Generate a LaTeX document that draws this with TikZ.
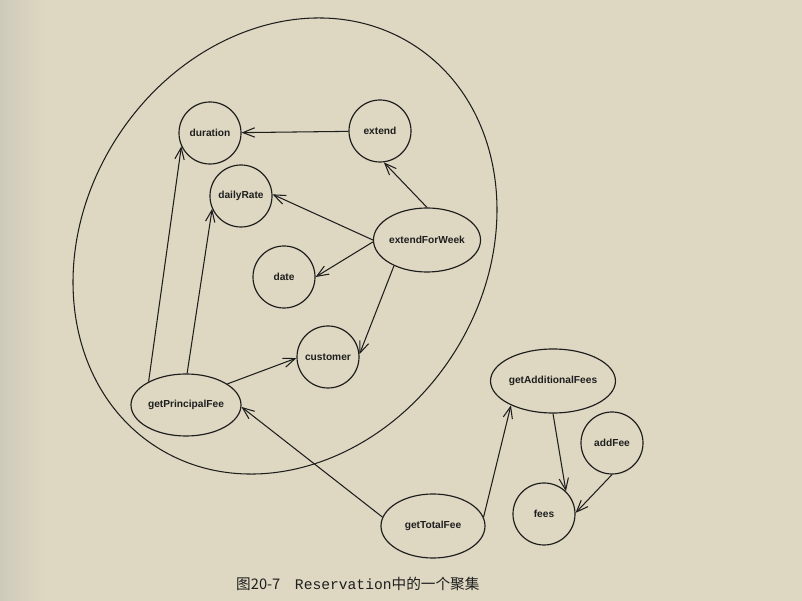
\documentclass[tikz,border=0pt]{standalone}
\usepackage{fontspec}
\setsansfont{Liberation Sans}
\setmonofont{Liberation Mono}
\newfontfamily\cjk{Noto Sans CJK SC}
\usetikzlibrary{arrows.meta,shapes.geometric}

\definecolor{paper}{RGB}{222,216,194}
\definecolor{margin}{RGB}{206,202,186}
\definecolor{ink}{RGB}{30,30,30}

\begin{document}
\begin{tikzpicture}[x=0.03cm,y=-0.03cm,>={Straight Barb[length=10pt,width=8pt]},
  obj/.style={circle,draw=ink,line width=1pt,minimum size=1.86cm,inner sep=0pt,
    text=ink,font=\sffamily\bfseries\fontsize{8.7}{10}\selectfont},
  meth/.style={ellipse,draw=ink,line width=1pt,minimum height=1.92cm,inner sep=0pt,
    text=ink,font=\sffamily\bfseries\fontsize{8.7}{10}\selectfont},
  dep/.style={->,draw=ink,line width=0.9pt}]

% paper
\useasboundingbox (0,0) rectangle (802,601);
\fill[paper] (0,0) rectangle (802,601);
\shade[left color=margin,right color=paper] (0,0) rectangle (45,601);

% cluster boundary
\draw[ink,line width=0.9pt,rotate around={57.3:(285,246)}] (285,246) ellipse (238.6 and 200);

% variables
\node[obj] (dur) at (210,133) {duration};
\node[obj] (ext) at (380,131) {extend};
\node[obj] (rate) at (241,196) {dailyRate};
\node[obj] (date) at (284,277) {date};
\node[obj] (cust) at (328,357) {customer};
\node[obj] (add) at (612,443) {addFee};
\node[obj] (fees) at (544,514) {fees};

% methods
\node[meth,minimum width=2.76cm] (efw) at (427,240) {extendForWeek};
\node[meth,minimum width=3.3cm,minimum height=1.86cm] (gpf) at (186,405) {getPrincipalFee};
\node[meth,minimum width=3.48cm] (gaf) at (553,381) {getAdditionalFees};
\node[meth,minimum width=3.12cm] (gtf) at (433,526) {getTotalFee};

% uses
\draw[dep] (ext) -- (dur);
\draw[dep] (efw.north) -- (ext.277);
\draw[dep] (efw.180) -- (rate.3);
\draw[dep] (efw.182) -- (date.0);
\draw[dep] (efw.218) -- (cust.5);
\draw[dep] (gpf.148) -- (dur.205);
\draw[dep] (gpf.88) -- (rate.204);
\draw[dep] (gpf.27) -- (cust.182);
\draw[dep] (gtf.170) -- (gpf.358);
\draw[dep] (gtf.10) -- (gaf.210);
\draw[dep] (gaf.south) -- (fees.46);
\draw[dep] (add.south) -- (fees.2);

\node[anchor=west,inner sep=0pt,text=ink,font=\fontsize{12.5}{14}\selectfont] (cap) at (236,584)
  {{\cjk 图20-7}\quad\texttt{Reservation}{\cjk 中的一个聚集}};

\end{tikzpicture}
\end{document}
